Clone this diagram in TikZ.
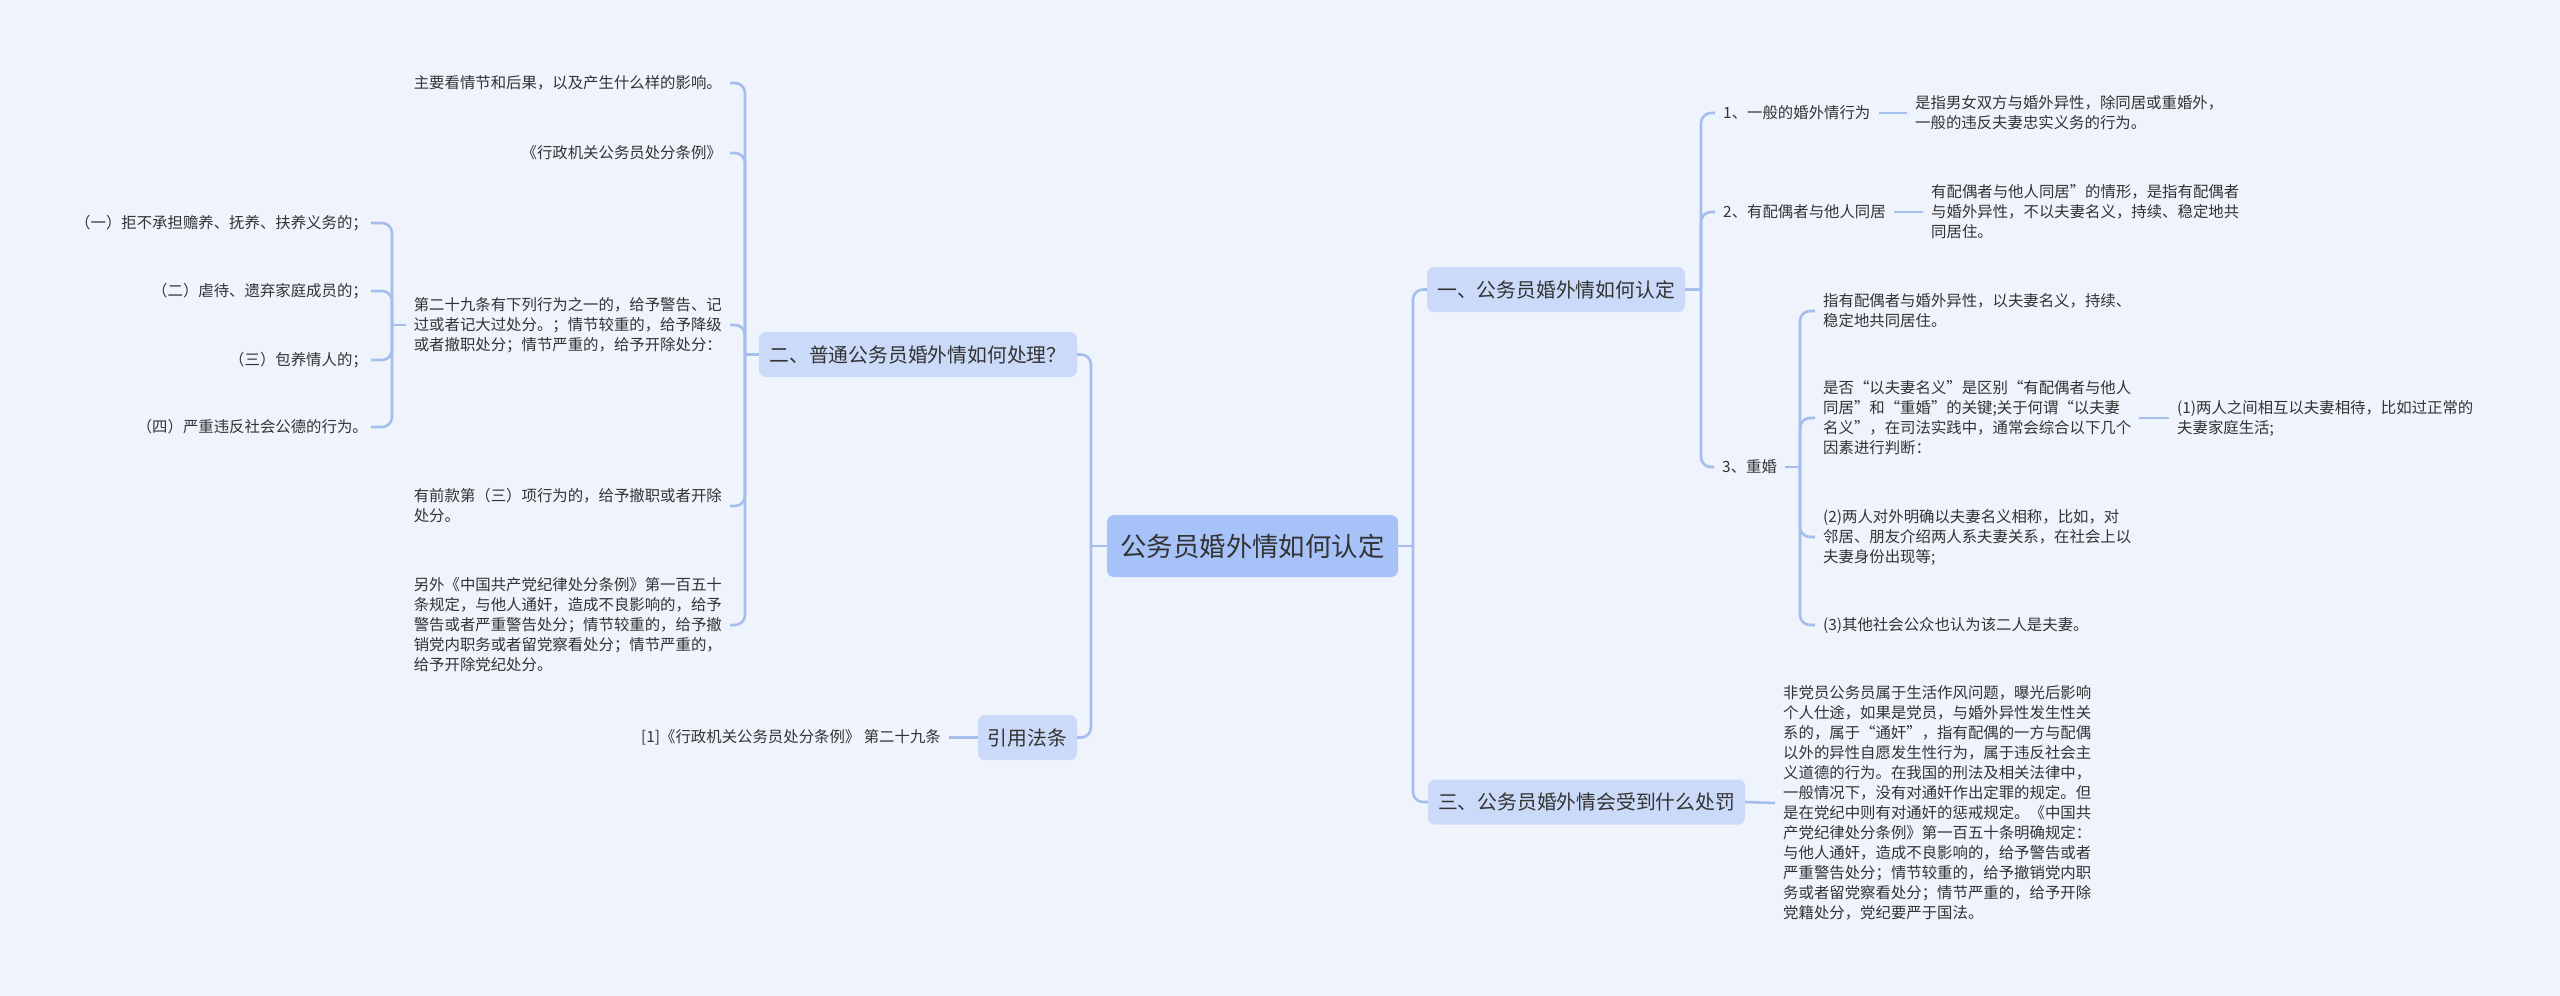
\documentclass[tikz,border=0pt]{standalone}
\usepackage{fontspec}
\setmainfont{Noto Sans CJK SC}
\definecolor{bgc}{RGB}{238,243,252}
\definecolor{linec}{RGB}{166,190,238}
\definecolor{rootc}{RGB}{167,194,249}
\definecolor{mainc}{RGB}{202,218,248}
\definecolor{txt}{RGB}{51,51,51}
\tikzset{
  conn/.style={draw=linec, line width=2.6pt, rounded corners=10pt},
  rootbox/.style={fill=rootc, rounded corners=7pt, text=txt, font=\fontsize{26.4}{30}\selectfont, minimum width=291pt, minimum height=62pt, inner sep=0pt},
  mainbox/.style={fill=mainc, rounded corners=7pt, text=txt, font=\fontsize{19.8}{24}\selectfont, minimum height=45pt, inner sep=0pt},
  leaf/.style={text=txt, font=\fontsize{15.4}{20}\selectfont, align=left, inner xsep=8pt, inner ysep=0pt},
}
\begin{document}
\begin{tikzpicture}[x=1pt,y=-1pt]
\useasboundingbox (0,0) rectangle (2560,996);
\fill[bgc] (0,0) rectangle (2560,996);

% root
\node[rootbox] (root) at (1252.5,546) {公务员婚外情如何认定};

% main branches
\node[mainbox, minimum width=258pt] (b1) at (1556,289.5) {一、公务员婚外情如何认定};
\node[mainbox, minimum width=318pt] (b2) at (918,354.5) {二、普通公务员婚外情如何处理？};
\node[mainbox, minimum width=317pt] (b3) at (1586.5,802) {三、公务员婚外情会受到什么处罚};
\node[mainbox, minimum width=99pt] (b4) at (1027.5,737.5) {引用法条};

% right branch 1
\node[leaf, anchor=west] (c1) at (1715,113) {1、一般的婚外情行为};
\node[leaf, anchor=west] (d1) at (1907,113) {是指男女双方与婚外异性，除同居或重婚外，\\一般的违反夫妻忠实义务的行为。};
\node[leaf, anchor=west] (c2) at (1715,212) {2、有配偶者与他人同居};
\node[leaf, anchor=west] (d2) at (1923,212) {有配偶者与他人同居”的情形，是指有配偶者\\与婚外异性，不以夫妻名义，持续、稳定地共\\同居住。};
\node[leaf, anchor=west] (c3) at (1714,467) {3、重婚};
\node[leaf, anchor=west] (e1) at (1815,311) {指有配偶者与婚外异性，以夫妻名义，持续、\\稳定地共同居住。};
\node[leaf, anchor=west] (e2) at (1815,418) {是否“以夫妻名义”是区别“有配偶者与他人\\同居”和“重婚”的关键;关于何谓“以夫妻\\名义”，在司法实践中，通常会综合以下几个\\因素进行判断：};
\node[leaf, anchor=west] (f1) at (2169,418) {(1)两人之间相互以夫妻相待，比如过正常的\\夫妻家庭生活;};
\node[leaf, anchor=west] (e3) at (1815,537) {(2)两人对外明确以夫妻名义相称，比如，对\\邻居、朋友介绍两人系夫妻关系，在社会上以\\夫妻身份出现等;};
\node[leaf, anchor=west] (e4) at (1815,625) {(3)其他社会公众也认为该二人是夫妻。};

% right branch 3
\node[leaf, anchor=west] (d3) at (1775,803) {非党员公务员属于生活作风问题，曝光后影响\\个人仕途，如果是党员，与婚外异性发生性关\\系的，属于“通奸”，指有配偶的一方与配偶\\以外的异性自愿发生性行为，属于违反社会主\\义道德的行为。在我国的刑法及相关法律中，\\一般情况下，没有对通奸作出定罪的规定。但\\是在党纪中则有对通奸的惩戒规定。《中国共\\产党纪律处分条例》第一百五十条明确规定：\\与他人通奸，造成不良影响的，给予警告或者\\严重警告处分；情节较重的，给予撤销党内职\\务或者留党察看处分；情节严重的，给予开除\\党籍处分，党纪要严于国法。};

% left branch 2
\node[leaf, anchor=east] (l1) at (730,83) {主要看情节和后果，以及产生什么样的影响。};
\node[leaf, anchor=east] (l2) at (730,153) {《行政机关公务员处分条例》};
\node[leaf, anchor=east] (l3) at (730,325) {第二十九条有下列行为之一的，给予警告、记\\过或者记大过处分。；情节较重的，给予降级\\或者撤职处分；情节严重的，给予开除处分：};
\node[leaf, anchor=east] (l4) at (730,506) {有前款第（三）项行为的，给予撤职或者开除\\处分。};
\node[leaf, anchor=east] (l5) at (730,625) {另外《中国共产党纪律处分条例》第一百五十\\条规定，与他人通奸，造成不良影响的，给予\\警告或者严重警告处分；情节较重的，给予撤\\销党内职务或者留党察看处分；情节严重的，\\给予开除党纪处分。};
\node[leaf, anchor=east, inner xsep=3pt] (m1) at (371,223) {（一）拒不承担赡养、抚养、扶养义务的；};
\node[leaf, anchor=east, inner xsep=3pt] (m2) at (371,291) {（二）虐待、遗弃家庭成员的；};
\node[leaf, anchor=east, inner xsep=3pt] (m3) at (371,360) {（三）包养情人的；};
\node[leaf, anchor=east, inner xsep=3pt] (m4) at (371,427) {（四）严重违反社会公德的行为。};

% left branch 4
\node[leaf, anchor=east] (g1) at (949,737.5) {[1]《行政机关公务员处分条例》 第二十九条};

% junction coordinates
\coordinate (rt) at (1413,546);
\coordinate (lt) at (1091,546);
\coordinate (j1) at (1701,289.5);
\coordinate (j4) at (1800,467);
\coordinate (j2) at (745,354.5);
\coordinate (j3) at (392,325);

% connectors: root
\draw[conn] (root.east) -- (rt);
\draw[conn] (rt) |- (b1.west);
\draw[conn] (rt) |- (b3.west);
\draw[conn] (root.west) -- (lt);
\draw[conn] (lt) |- (b2.east);
\draw[conn] (lt) |- (b4.east);

% branch 1
\draw[conn] (b1.east) -- (j1);
\draw[conn] (j1) |- (c1.west);
\draw[conn] (j1) |- (c2.west);
\draw[conn] (j1) |- (c3.west);
\draw[conn] (c1.east) -- (d1.west);
\draw[conn] (c2.east) -- (d2.west);
\draw[conn] (c3.east) -- (j4);
\draw[conn] (j4) |- (e1.west);
\draw[conn] (j4) |- (e2.west);
\draw[conn] (j4) |- (e3.west);
\draw[conn] (j4) |- (e4.west);
\draw[conn] (e2.east) -- (f1.west);

% branch 3
\draw[conn] (b3.east) -- (d3.west);

% branch 2
\draw[conn] (b2.west) -- (j2);
\draw[conn] (j2) |- (l1.east);
\draw[conn] (j2) |- (l2.east);
\draw[conn] (j2) |- (l3.east);
\draw[conn] (j2) |- (l4.east);
\draw[conn] (j2) |- (l5.east);
\draw[conn] (l3.west) -- (j3);
\draw[conn] (j3) |- (m1.east);
\draw[conn] (j3) |- (m2.east);
\draw[conn] (j3) |- (m3.east);
\draw[conn] (j3) |- (m4.east);

% branch 4
\draw[conn] (b4.west) -- (g1.east);
\end{tikzpicture}
\end{document}
